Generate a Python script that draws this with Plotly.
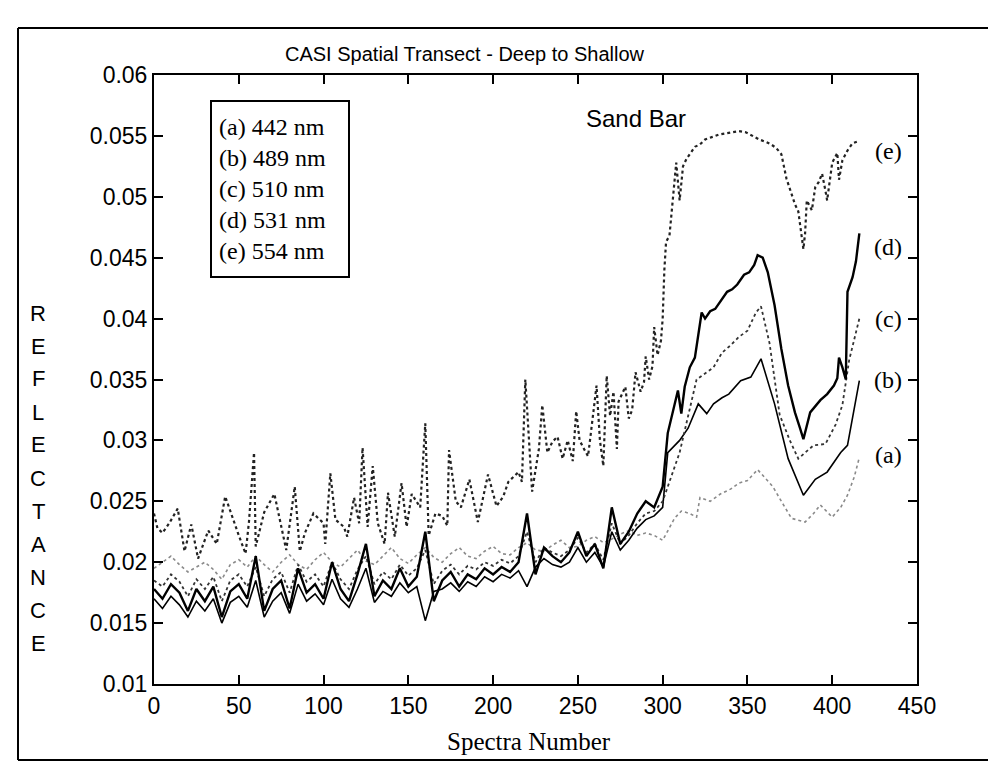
import plotly.graph_objects as go

# ---------------- data ----------------
# (e) 554 nm
x_e = [0, 2, 5, 9, 14, 18, 22, 26, 32, 37, 42, 47, 50, 54, 56, 59, 60, 65, 71, 78, 83, 86, 89, 94,
       100, 101, 104, 107, 112, 114, 118, 121, 123, 126, 129, 132, 136, 138, 142, 146, 149, 152,
       157, 160, 162, 166, 170, 173, 174, 178, 181, 186, 191, 197, 202, 206, 209, 215, 217, 219,
       223, 227, 229, 232, 235, 238, 241, 244, 247, 249, 251, 254, 256, 258, 261, 263, 265, 267,
       269, 271, 273, 274, 278, 280, 282, 284, 287, 289, 290, 292, 294, 295, 297, 299, 300, 301,
       302, 304, 306, 308, 310, 312, 314, 316, 319, 322, 325, 329, 333, 337, 341, 345, 349, 353,
       357, 361, 364, 367, 370, 373, 376, 378, 380, 382, 383, 384, 385, 388, 390, 392, 394, 396,
       397, 400, 403, 404, 406, 409, 412, 416]
y_e = [0.0240, 0.0228, 0.0224, 0.0232, 0.0244, 0.0209, 0.0231, 0.0203, 0.0226, 0.0215, 0.0254,
       0.0233, 0.0222, 0.0207, 0.0233, 0.0290, 0.0213, 0.0241, 0.0256, 0.0210, 0.0262, 0.0209,
       0.0224, 0.0240, 0.0232, 0.0215, 0.0273, 0.0235, 0.0229, 0.0221, 0.0253, 0.0232, 0.0294,
       0.0229, 0.0279, 0.0232, 0.0215, 0.0257, 0.0221, 0.0265, 0.0229, 0.0256, 0.0245, 0.0314,
       0.0222, 0.0240, 0.0238, 0.0230, 0.0292, 0.0250, 0.0245, 0.0268, 0.0233, 0.0272, 0.0246,
       0.0254, 0.0266, 0.0274, 0.0266, 0.0350, 0.0258, 0.0293, 0.0329, 0.0290, 0.0299, 0.0303,
       0.0285, 0.0300, 0.0283, 0.0324, 0.0300, 0.0292, 0.0287, 0.0310, 0.0345, 0.0300, 0.0279,
       0.0353, 0.0320, 0.0340, 0.0293, 0.0332, 0.0344, 0.0318, 0.0325, 0.0356, 0.0340, 0.0348,
       0.0369, 0.0350, 0.0361, 0.0393, 0.0370, 0.0382, 0.0400, 0.0440, 0.0463, 0.0468, 0.0500,
       0.0528, 0.0497, 0.0525, 0.0531, 0.0535, 0.0541, 0.0543, 0.0547, 0.0549, 0.0551, 0.0552,
       0.0553, 0.0554, 0.0553, 0.0550, 0.0547, 0.0545, 0.0543, 0.0540, 0.0535, 0.0515, 0.0502,
       0.0494, 0.0488, 0.0470, 0.0457, 0.0470, 0.0497, 0.0489, 0.0508, 0.0512, 0.0519, 0.0505,
       0.0497, 0.0528, 0.0536, 0.0514, 0.0530, 0.0538, 0.0544, 0.0546]

# common spectra numbers for the lower bundle (0..300 step 5) + tail points
x_low = list(range(0, 301, 5))

# (d) 531 nm
y_d_low = [0.0178, 0.0170, 0.0182, 0.0175, 0.0160, 0.0178, 0.0168, 0.0180, 0.0155, 0.0176, 0.0182,
           0.0170, 0.0205, 0.0160, 0.0178, 0.0185, 0.0162, 0.0195, 0.0175, 0.0182, 0.0170, 0.0200,
           0.0178, 0.0168, 0.0190, 0.0215, 0.0172, 0.0185, 0.0178, 0.0195, 0.0180, 0.0188, 0.0225,
           0.0168, 0.0185, 0.0192, 0.0180, 0.0190, 0.0186, 0.0195, 0.0190, 0.0196, 0.0192, 0.0200,
           0.0240, 0.0190, 0.0212, 0.0205, 0.0200, 0.0208, 0.0225, 0.0205, 0.0215, 0.0195, 0.0245,
           0.0215, 0.0225, 0.0240, 0.0250, 0.0245, 0.0262]
x_d_tail = [303, 309, 311, 313, 316, 319, 322, 323, 325, 328, 331, 334, 338, 341, 344, 348, 351, 354,
            356, 359, 362, 366, 370, 374, 378, 381, 383, 387, 393, 397, 401, 403, 404, 406, 408,
            409, 412, 414, 416]
y_d_tail = [0.0306, 0.0341, 0.0322, 0.0344, 0.0360, 0.0368, 0.0393, 0.0405, 0.0400, 0.0406, 0.0408,
            0.0414, 0.0422, 0.0424, 0.0428, 0.0436, 0.0438, 0.0444, 0.0452, 0.0450, 0.0438, 0.0411,
            0.0375, 0.0345, 0.0323, 0.0310, 0.0301, 0.0323, 0.0333, 0.0338, 0.0345, 0.0351, 0.0368,
            0.0360, 0.0350, 0.0422, 0.0434, 0.0447, 0.0470]

# (c) 510 nm
y_c_low = [0.0185, 0.0180, 0.0190, 0.0184, 0.0172, 0.0186, 0.0178, 0.0188, 0.0168, 0.0185, 0.0190,
           0.0180, 0.0196, 0.0172, 0.0186, 0.0192, 0.0175, 0.0198, 0.0184, 0.0190, 0.0180, 0.0200,
           0.0186, 0.0178, 0.0194, 0.0205, 0.0182, 0.0192, 0.0186, 0.0198, 0.0189, 0.0195, 0.0210,
           0.0182, 0.0193, 0.0198, 0.0190, 0.0197, 0.0194, 0.0200, 0.0197, 0.0202, 0.0199, 0.0205,
           0.0225, 0.0200, 0.0212, 0.0208, 0.0205, 0.0210, 0.0220, 0.0208, 0.0215, 0.0202, 0.0232,
           0.0215, 0.0222, 0.0232, 0.0240, 0.0242, 0.0250]
x_c_tail = [305, 310, 315, 320, 325, 330, 335, 340, 345, 350, 355, 358, 363, 369, 375, 380, 389,
            396, 402, 406, 410, 416]
y_c_tail = [0.0270, 0.0290, 0.0320, 0.0350, 0.0355, 0.0360, 0.0372, 0.0378, 0.0385, 0.0390, 0.0405,
            0.0410, 0.0380, 0.0321, 0.0300, 0.0285, 0.0296, 0.0297, 0.0313, 0.0329, 0.0366, 0.0400]

# (b) 489 nm
y_b_low = [0.0170, 0.0162, 0.0172, 0.0165, 0.0155, 0.0168, 0.0160, 0.0170, 0.0150, 0.0167, 0.0172,
           0.0163, 0.0185, 0.0155, 0.0168, 0.0175, 0.0158, 0.0182, 0.0168, 0.0174, 0.0165, 0.0186,
           0.0170, 0.0163, 0.0178, 0.0195, 0.0167, 0.0176, 0.0172, 0.0183, 0.0175, 0.0180, 0.0152,
           0.0176, 0.0178, 0.0183, 0.0176, 0.0184, 0.0180, 0.0188, 0.0184, 0.0190, 0.0187, 0.0193,
           0.0180, 0.0196, 0.0203, 0.0198, 0.0196, 0.0200, 0.0212, 0.0200, 0.0208, 0.0196, 0.0225,
           0.0210, 0.0218, 0.0228, 0.0235, 0.0238, 0.0245]
x_b_tail = [303, 310, 315, 321, 326, 330, 335, 339, 346, 352, 358, 366, 374, 383, 390, 397, 405,
            409, 413, 416]
y_b_tail = [0.0290, 0.0300, 0.0310, 0.0330, 0.0322, 0.0330, 0.0335, 0.0338, 0.0349, 0.0352, 0.0367,
            0.0330, 0.0285, 0.0255, 0.0268, 0.0274, 0.0290, 0.0296, 0.0325, 0.0349]

# (a) 442 nm
y_a_low = [0.0195, 0.0200, 0.0205, 0.0198, 0.0192, 0.0196, 0.0200, 0.0194, 0.0186, 0.0198, 0.0202,
           0.0196, 0.0205, 0.0198, 0.0192, 0.0200, 0.0206, 0.0198, 0.0194, 0.0202, 0.0208, 0.0200,
           0.0196, 0.0203, 0.0210, 0.0201, 0.0198, 0.0205, 0.0212, 0.0203, 0.0199, 0.0206, 0.0212,
           0.0204, 0.0200, 0.0207, 0.0212, 0.0205, 0.0203, 0.0209, 0.0213, 0.0207, 0.0206, 0.0212,
           0.0216, 0.0210, 0.0209, 0.0214, 0.0218, 0.0212, 0.0213, 0.0218, 0.0221, 0.0216, 0.0219,
           0.0223, 0.0226, 0.0222, 0.0224, 0.0222, 0.0218]
x_a_tail = [307, 311, 316, 320, 322, 328, 334, 340, 345, 350, 356, 360, 365, 370, 376, 384, 389,
            393, 400, 405, 409, 413, 416]
y_a_tail = [0.0236, 0.0242, 0.0240, 0.0237, 0.0253, 0.0250, 0.0256, 0.0260, 0.0265, 0.0267, 0.0276,
            0.0270, 0.0262, 0.0250, 0.0236, 0.0233, 0.0240, 0.0247, 0.0237, 0.0245, 0.0255, 0.0270,
            0.0286]

x_ticks = [0, 50, 100, 150, 200, 250, 300, 350, 400, 450]
y_ticks = [0.01, 0.015, 0.02, 0.025, 0.03, 0.035, 0.04, 0.045, 0.05, 0.055, 0.06]
y_tick_text = ["0.01", "0.015", "0.02", "0.025", "0.03", "0.035", "0.04", "0.045", "0.05", "0.055", "0.06"]
legend_lines = ["(a) 442 nm", "(b) 489 nm", "(c) 510 nm", "(d) 531 nm", "(e) 554 nm"]
curve_tags = ["(e)", "(d)", "(c)", "(b)", "(a)"]
curve_tag_y = [0.0538, 0.0459, 0.0400, 0.0350, 0.0288]
y_title_letters = list("REFLECTANCE")

# ---------------- figure ----------------
W, H = 996, 762
L, R, T, B = 146, 909, 67, 676


def px(X):
    return (X - L) / (R - L)


def py(Y):
    return (B - Y) / (B - T)


fig = go.Figure()

fig.add_trace(go.Scatter(x=x_low + x_a_tail, y=y_a_low + y_a_tail, mode="lines",
                         line=dict(color="#8a8a8a", width=1.6, dash="dot"), name="a"))
fig.add_trace(go.Scatter(x=x_low + x_b_tail, y=y_b_low + y_b_tail, mode="lines",
                         line=dict(color="black", width=1.6), name="b"))
fig.add_trace(go.Scatter(x=x_low + x_c_tail, y=y_c_low + y_c_tail, mode="lines",
                         line=dict(color="#333333", width=1.8, dash="dot"), name="c"))
fig.add_trace(go.Scatter(x=x_low + x_d_tail, y=y_d_low + y_d_tail, mode="lines",
                         line=dict(color="black", width=2.4), name="d"))
fig.add_trace(go.Scatter(x=x_e, y=y_e, mode="lines",
                         line=dict(color="#222222", width=2.2, dash="dot"), name="e"))

ann = []
ann.append(dict(text="CASI Spatial Transect - Deep to Shallow", xref="paper", yref="paper",
                x=px(457), y=py(46), showarrow=False, xanchor="center", yanchor="middle",
                font=dict(family="Liberation Sans, Arial", size=20, color="black")))
ann.append(dict(text="Spectra Number", xref="paper", yref="paper", x=px(521), y=py(733),
                showarrow=False, xanchor="center", yanchor="middle",
                font=dict(family="Liberation Serif, Times New Roman, serif", size=25, color="black")))
for i, ch in enumerate(y_title_letters):
    ann.append(dict(text=ch, xref="paper", yref="paper", x=px(30), y=py(305 + i * 33),
                    showarrow=False, xanchor="center", yanchor="middle",
                    font=dict(family="Liberation Sans, Arial", size=22, color="black")))
ann.append(dict(text="<br>".join(legend_lines), xref="paper", yref="paper", x=px(202), y=py(92),
                showarrow=False, xanchor="left", yanchor="top", align="left",
                width=122, height=160, borderpad=7, bordercolor="black", borderwidth=2,
                bgcolor="white",
                font=dict(family="Liberation Serif, Times New Roman, serif", size=24, color="black")))
for tag, ty in zip(curve_tags, curve_tag_y):
    ann.append(dict(text=tag, x=433, y=ty, xref="x", yref="y", showarrow=False,
                    xanchor="center", yanchor="middle",
                    font=dict(family="Liberation Serif, Times New Roman, serif", size=24, color="black")))
ann.append(dict(text="Sand Bar", x=284, y=0.0564, xref="x", yref="y", showarrow=False,
                xanchor="center", yanchor="middle",
                font=dict(family="Liberation Sans, Arial", size=24, color="black")))

shapes = [
    dict(type="line", xref="paper", yref="paper", x0=px(10), y0=py(20), x1=px(996), y1=py(20),
         line=dict(color="black", width=2)),
    dict(type="line", xref="paper", yref="paper", x0=px(10), y0=py(20), x1=px(10), y1=py(752),
         line=dict(color="black", width=2)),
    dict(type="line", xref="paper", yref="paper", x0=px(10), y0=py(752), x1=px(996), y1=py(752),
         line=dict(color="black", width=2)),
]

fig.update_layout(
    width=W, height=H, autosize=False,
    margin=dict(l=L, r=W - R, t=T, b=H - B),
    paper_bgcolor="white", plot_bgcolor="white",
    showlegend=False,
    annotations=ann, shapes=shapes,
    font=dict(family="Liberation Sans, Arial", size=22, color="black"),
)
fig.update_xaxes(range=[0, 450], tickvals=x_ticks, ticks="inside", ticklen=9, tickwidth=2,
                 tickcolor="black", showline=True, linecolor="black", linewidth=2, mirror="ticks",
                 showgrid=False, zeroline=False, tickfont=dict(size=23))
fig.update_yaxes(range=[0.01, 0.06], tickvals=y_ticks, ticktext=y_tick_text, ticks="inside",
                 ticklen=9, tickwidth=2, tickcolor="black", showline=True, linecolor="black",
                 linewidth=2, mirror="ticks", showgrid=False, zeroline=False, tickfont=dict(size=23))

fig.write_html("out.html")
